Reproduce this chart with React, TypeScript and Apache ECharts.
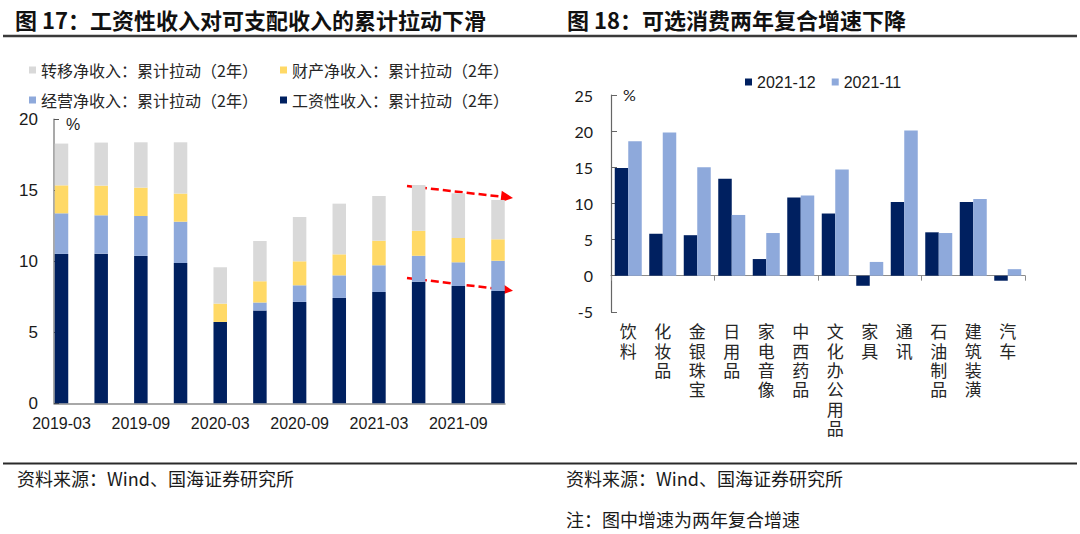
import React, { useEffect, useRef } from "react";
import * as echarts from "echarts";

// ---- Left chart data (图17) ----
const quarters = [
  "2019-03", "2019-06", "2019-09", "2019-12",
  "2020-03", "2020-06", "2020-09", "2020-12",
  "2021-03", "2021-06", "2021-09", "2021-12",
];
const wageIncome = [10.52, 10.54, 10.38, 9.88, 5.73, 6.53, 7.14, 7.42, 7.84, 8.56, 8.26, 7.91];
const operatingIncome = [2.86, 2.7, 2.81, 2.91, 0, 0.56, 1.17, 1.59, 1.88, 1.83, 1.67, 2.13];
const propertyIncome = [1.97, 2.09, 2.0, 1.98, 1.29, 1.5, 1.69, 1.48, 1.73, 1.76, 1.71, 1.51];
const transferIncome = [2.94, 3.03, 3.19, 3.61, 2.56, 2.84, 3.12, 3.57, 3.15, 3.22, 3.15, 2.77];
const leftSeriesNames = [
  "工资性收入：累计拉动（2年）",
  "经营净收入：累计拉动（2年）",
  "财产净收入：累计拉动（2年）",
  "转移净收入：累计拉动（2年）",
];

// ---- Right chart data (图18) ----
const goodsCategories = [
  "饮料", "化妆品", "金银珠宝", "日用品", "家电音像", "中西药品",
  "文化办公用品", "家具", "通讯", "石油制品", "建筑装潢", "汽车",
];
const growthDec = [14.9, 5.8, 5.6, 13.4, 2.3, 10.8, 8.6, -1.4, 10.2, 6.0, 10.2, -0.7];
const growthNov = [18.6, 19.8, 15.0, 8.4, 5.9, 11.1, 14.7, 1.9, 20.1, 5.9, 10.6, 0.9];
const rightSeriesNames = ["2021-12", "2021-11"];

const NAVY = "#002060";
const LIGHT = "#8EA9DB";
const YELLOW = "#FFD966";
const GRAY = "#D9D9D9";
const AXIS = "#8c8c8c";
const CJK = "Noto Sans CJK SC";

const RIGHT_GRID = { left: 611, width: 414, top: 95, height: 216.8 };

export default function App() {
  const ref = useRef<HTMLDivElement>(null);

  useEffect(() => {
    if (!ref.current) return;
    const chart = echarts.init(ref.current, null, { renderer: "svg" });

    const legendCommon = {
      padding: 0,
      itemWidth: 7,
      itemHeight: 7,
      icon: "rect",
      selectedMode: false,
      textStyle: { fontSize: 16, fontFamily: CJK, color: "#262626", lineHeight: 18 },
    };

    const arrow = (x1: number, y1: number, tx: number, ty: number) => {
      const dx = tx - x1, dy = ty - y1;
      const len = Math.sqrt(dx * dx + dy * dy);
      const ux = dx / len, uy = dy / len;
      const hl = 12, hw = 6;
      const bx = tx - ux * hl, by = ty - uy * hl;
      return [
        {
          type: "line",
          shape: { x1, y1, x2: bx, y2: by },
          style: { stroke: "#ff0000", lineWidth: 2.5, lineDash: [8, 4] },
        },
        {
          type: "polygon",
          shape: {
            points: [
              [tx, ty],
              [bx - uy * hw, by + ux * hw],
              [bx + uy * hw, by - ux * hw],
            ],
          },
          style: { fill: "#ff0000" },
        },
      ];
    };

    // vertical (stacked-character) category labels: one label row per character
    const maxLen = Math.max(...goodsCategories.map((s) => s.length));
    const charRows = Array.from({ length: maxLen }, (_, k) => k);
    const charGrids = charRows.map(() => ({ ...RIGHT_GRID }));
    const charXAxes = charRows.map((k) => ({
      gridIndex: 3 + k,
      type: "category",
      data: goodsCategories,
      axisLine: { show: false, onZero: false },
      axisTick: { show: false },
      splitLine: { show: false },
      axisLabel: {
        interval: 0,
        margin: 12.5 + 19.3 * k,
        fontSize: 17,
        lineHeight: 17,
        fontFamily: "'Liberation Sans', 'Noto Sans CJK SC'",
        color: "#262626",
        formatter: (s: string) => s.charAt(k),
      },
    }));
    const charYAxes = charRows.map((k) => ({
      gridIndex: 3 + k,
      type: "value",
      min: -5,
      max: 25,
      show: false,
    }));
    const charSeries = charRows.map((k) => ({
      type: "line",
      xAxisIndex: 3 + k,
      yAxisIndex: 3 + k,
      data: [],
      silent: true,
    }));

    const option: any = {
      animation: false,
      grid: [
        { left: 61.5, width: 436.5, top: 119.3, height: 284 },
        { left: 54, width: 451, top: 119.3, height: 284 },
        { ...RIGHT_GRID },
        ...charGrids,
      ],
      xAxis: [
        {
          gridIndex: 0,
          type: "category",
          data: quarters,
          boundaryGap: false,
          axisLine: { show: false },
          axisTick: { show: false },
          axisLabel: {
            interval: 1,
            margin: 12,
            fontSize: 16,
            fontFamily: "Liberation Sans",
            color: "#1a1a1a",
          },
        },
        {
          gridIndex: 1,
          type: "value",
          min: 0,
          max: 1,
          axisLine: { show: true, lineStyle: { color: AXIS, width: 1.5 } },
          axisTick: { show: false },
          axisLabel: { show: false },
          splitLine: { show: false },
        },
        {
          gridIndex: 2,
          type: "category",
          data: goodsCategories,
          axisLine: { show: true, onZero: true, lineStyle: { color: AXIS, width: 1.2 } },
          axisTick: { show: true, length: 5, lineStyle: { color: AXIS } },
          axisLabel: { show: false },
        },
        ...charXAxes,
      ],
      yAxis: [
        { gridIndex: 0, type: "value", min: 0, max: 20, show: false },
        {
          gridIndex: 1,
          type: "value",
          min: 0,
          max: 20,
          interval: 5,
          axisLine: { show: true, lineStyle: { color: AXIS, width: 1.5 } },
          axisTick: { show: true, inside: true, length: 5, lineStyle: { color: "#555" } },
          axisLabel: { margin: 16, fontSize: 17, fontFamily: "Liberation Sans", color: "#1a1a1a" },
          splitLine: { show: false },
        },
        {
          gridIndex: 2,
          type: "value",
          min: -5,
          max: 25,
          interval: 5,
          axisLine: { show: true, lineStyle: { color: "#666", width: 1.2 } },
          axisTick: { show: true, inside: true, length: 6, lineStyle: { color: "#666" } },
          axisLabel: { margin: 18, fontSize: 16, fontFamily: "Lato", color: "#1a1a1a" },
          splitLine: { show: false },
        },
        ...charYAxes,
      ],
      legend: [
        { ...legendCommon, data: [leftSeriesNames[3]], left: 29, top: 61 },
        { ...legendCommon, data: [leftSeriesNames[2]], left: 280, top: 61 },
        { ...legendCommon, data: [leftSeriesNames[1]], left: 29, top: 91 },
        { ...legendCommon, data: [leftSeriesNames[0]], left: 280, top: 91 },
        {
          ...legendCommon,
          data: rightSeriesNames,
          left: 745,
          top: 73,
          itemGap: 16,
          textStyle: { fontSize: 16, fontFamily: "Liberation Sans", color: "#1a1a1a", lineHeight: 18 },
        },
      ],
      series: [
        {
          name: leftSeriesNames[0], type: "bar", stack: "inc", xAxisIndex: 0, yAxisIndex: 0,
          barWidth: 13.5, data: wageIncome, itemStyle: { color: NAVY },
        },
        {
          name: leftSeriesNames[1], type: "bar", stack: "inc", xAxisIndex: 0, yAxisIndex: 0,
          barWidth: 13.5, data: operatingIncome, itemStyle: { color: LIGHT },
        },
        {
          name: leftSeriesNames[2], type: "bar", stack: "inc", xAxisIndex: 0, yAxisIndex: 0,
          barWidth: 13.5, data: propertyIncome, itemStyle: { color: YELLOW },
        },
        {
          name: leftSeriesNames[3], type: "bar", stack: "inc", xAxisIndex: 0, yAxisIndex: 0,
          barWidth: 13.5, data: transferIncome, itemStyle: { color: GRAY },
        },
        { type: "line", xAxisIndex: 1, yAxisIndex: 1, data: [], silent: true },
        {
          name: rightSeriesNames[0], type: "bar", xAxisIndex: 2, yAxisIndex: 2,
          barWidth: 13.5, barGap: "0%", data: growthDec, itemStyle: { color: NAVY },
        },
        {
          name: rightSeriesNames[1], type: "bar", xAxisIndex: 2, yAxisIndex: 2,
          barWidth: 13.5, barGap: "0%", data: growthNov, itemStyle: { color: LIGHT },
        },
        ...charSeries,
      ],
      graphic: [
        {
          type: "text", x: 15, y: 19,
          style: {
            text: "图 17：工资性收入对可支配收入的累计拉动下滑",
            fontSize: 22, fontWeight: "bold", fontFamily: CJK, fill: "#111", verticalAlign: "middle",
          },
        },
        {
          type: "text", x: 567, y: 19,
          style: {
            text: "图 18：可选消费两年复合增速下降",
            fontSize: 22, fontWeight: "bold", fontFamily: CJK, fill: "#111", verticalAlign: "middle",
          },
        },
        {
          type: "line",
          shape: { x1: 3, y1: 36, x2: 1077, y2: 36 },
          style: { stroke: "#3a3a3a", lineWidth: 2.5 },
        },
        {
          type: "line",
          shape: { x1: 3, y1: 463.5, x2: 1077, y2: 463.5 },
          style: { stroke: "#2a2a2a", lineWidth: 2 },
        },
        {
          type: "text", x: 66, y: 124,
          style: { text: "%", fontSize: 16, fontFamily: "Liberation Sans", fill: "#1a1a1a", verticalAlign: "middle" },
        },
        {
          type: "text", x: 623, y: 94,
          style: { text: "%", fontSize: 16, fontFamily: "Lato", fill: "#1a1a1a", verticalAlign: "middle" },
        },
        {
          type: "text", x: 17, y: 478,
          style: { text: "资料来源：Wind、国海证券研究所", fontSize: 18, fontFamily: CJK, fill: "#1a1a1a", verticalAlign: "middle" },
        },
        {
          type: "text", x: 566, y: 478,
          style: { text: "资料来源：Wind、国海证券研究所", fontSize: 18, fontFamily: CJK, fill: "#1a1a1a", verticalAlign: "middle" },
        },
        {
          type: "text", x: 566, y: 519,
          style: { text: "注：图中增速为两年复合增速", fontSize: 18, fontFamily: CJK, fill: "#1a1a1a", verticalAlign: "middle" },
        },
        ...arrow(407, 186, 513, 198),
        ...arrow(407, 278, 513, 290.7),
      ],
    };

    chart.setOption(option);
    return () => chart.dispose();
  }, []);

  return (
    <div
      ref={ref}
      style={{ position: "fixed", left: 0, top: 0, width: 1080, height: 534, background: "#fff" }}
    />
  );
}
